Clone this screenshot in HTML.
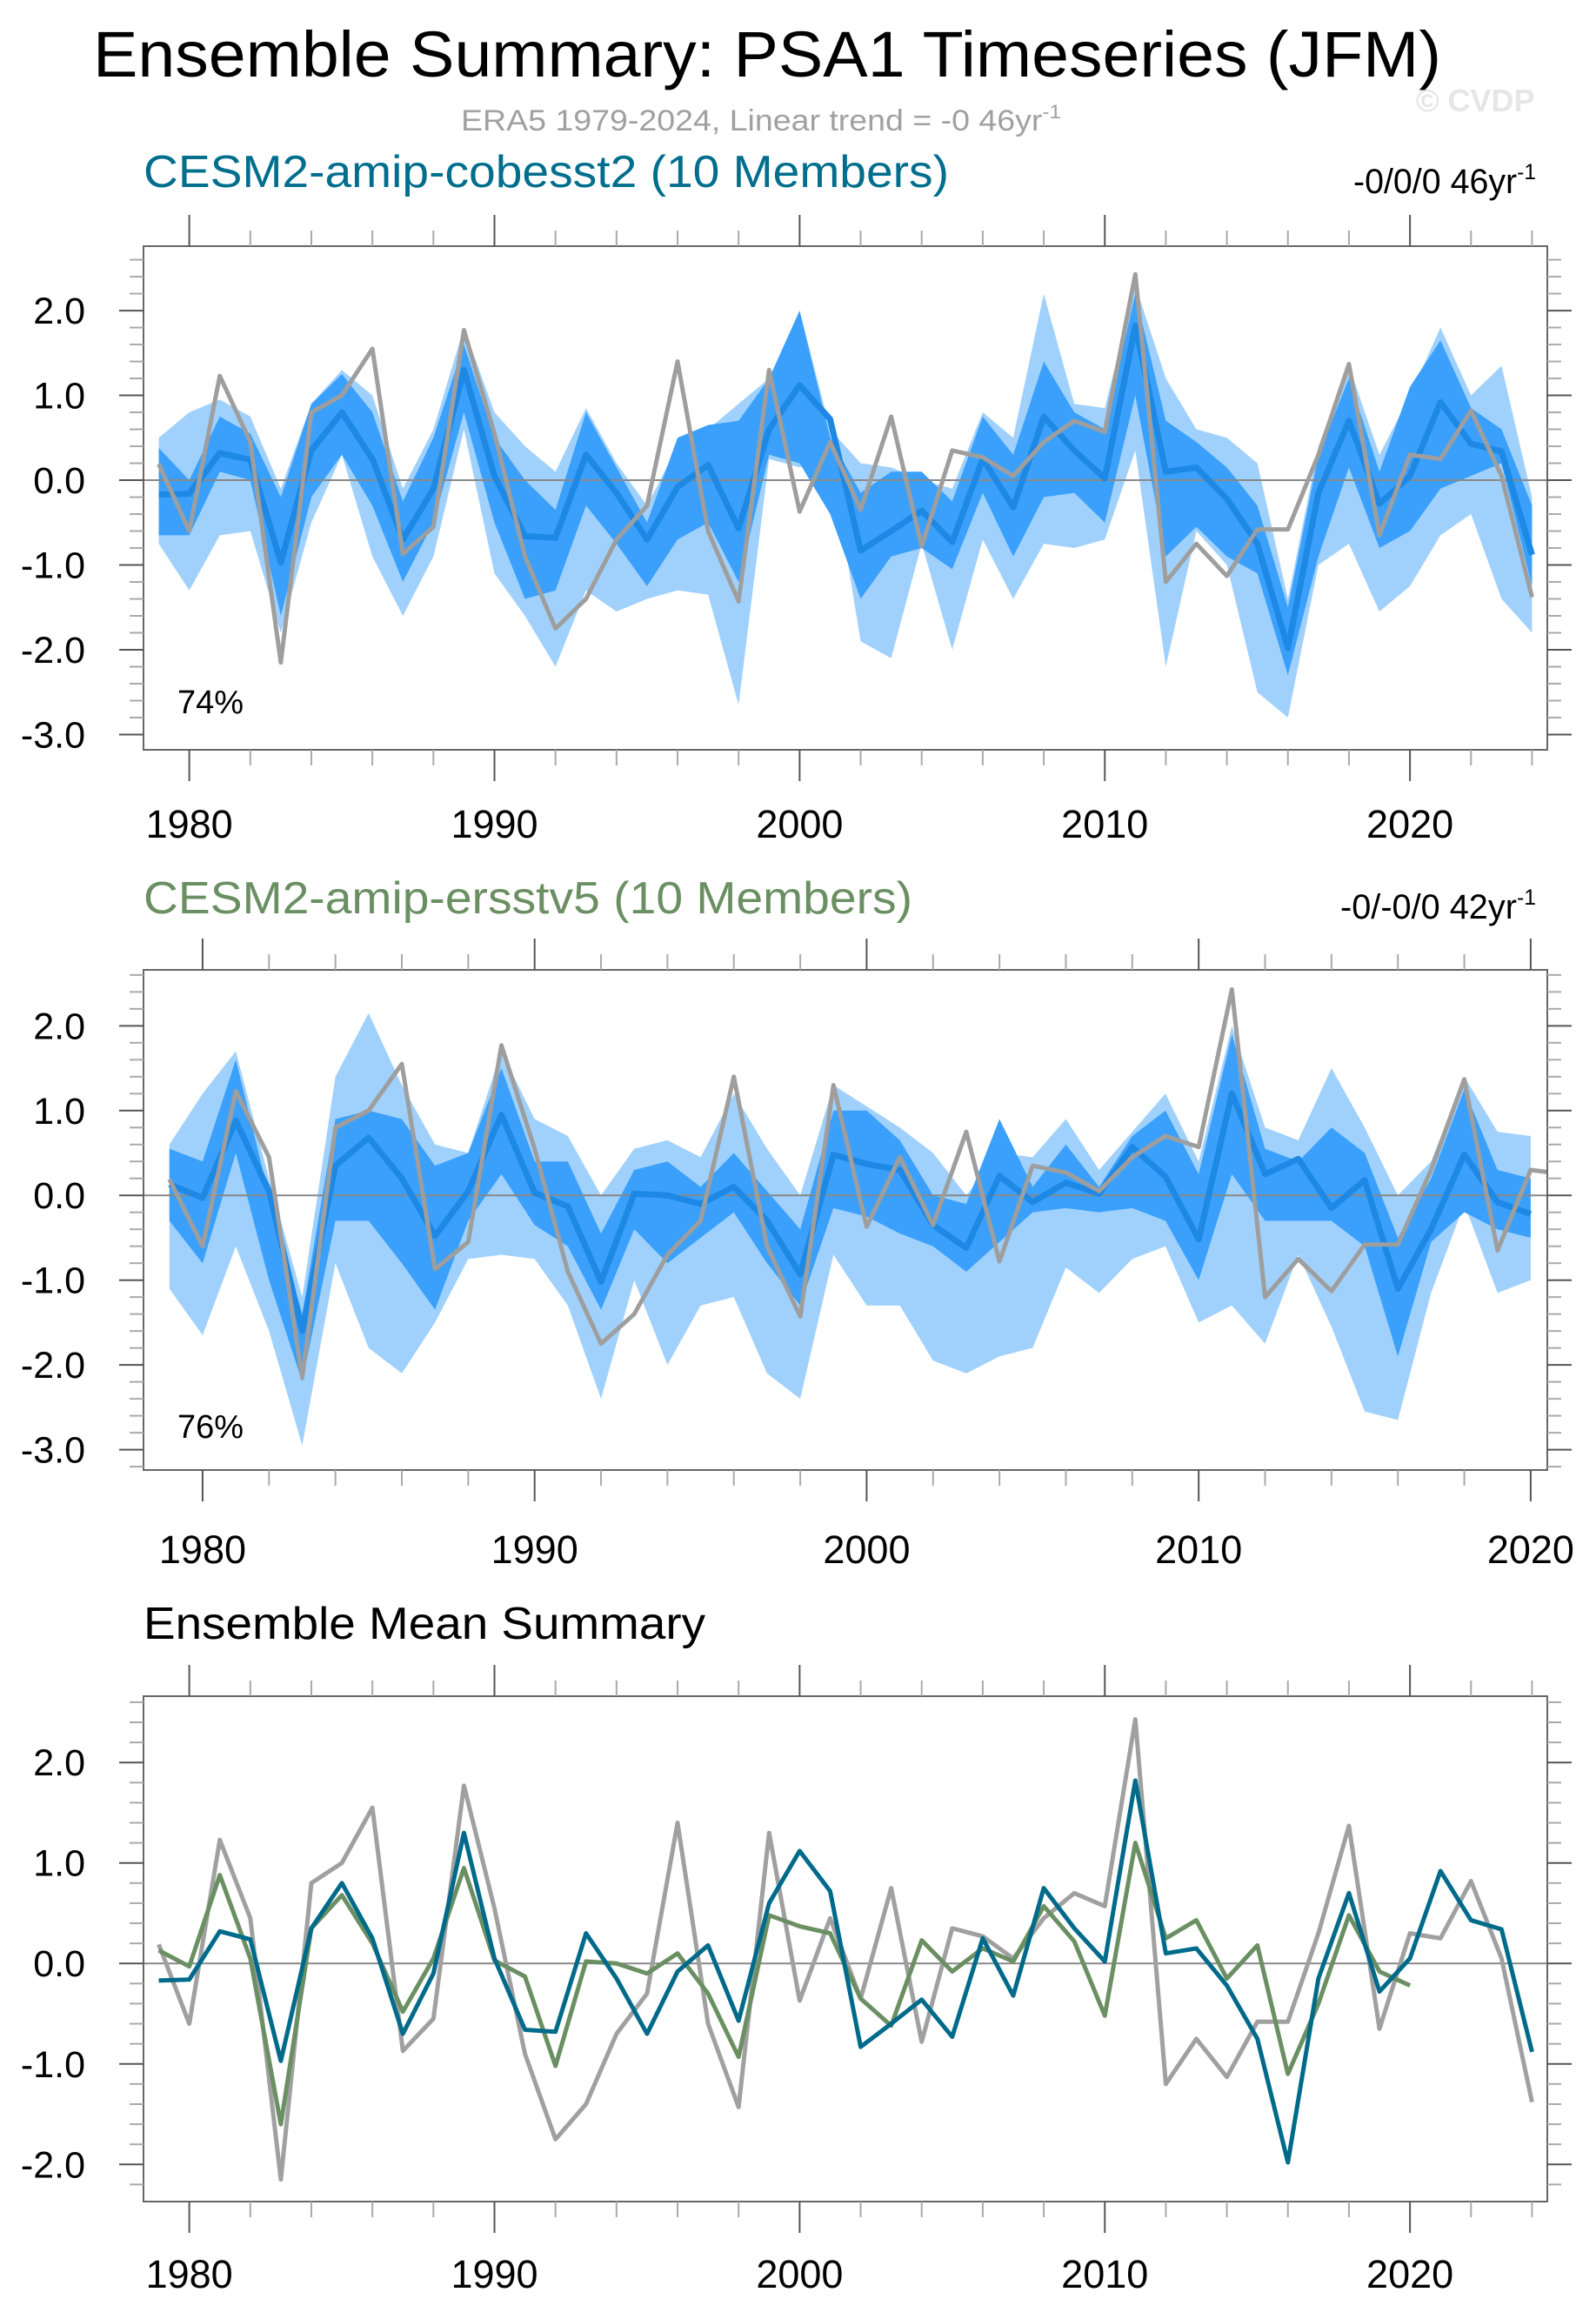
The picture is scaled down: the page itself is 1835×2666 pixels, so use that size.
<!DOCTYPE html>
<html><head><meta charset="utf-8"><style>
html,body{margin:0;padding:0;background:#fff}
svg{display:block}
text{font-family:"Liberation Sans",sans-serif}
</style></head><body>
<svg id="chart" width="1835" height="2666" viewBox="0 0 1835 2666" xmlns="http://www.w3.org/2000/svg">
<text x="107" y="88" font-size="74" textLength="1550" lengthAdjust="spacingAndGlyphs">Ensemble Summary: PSA1 Timeseries (JFM)</text>
<text x="530" y="150" font-size="34" fill="#a0a0a0" textLength="690" lengthAdjust="spacingAndGlyphs">ERA5 1979-2024, Linear trend = -0 46yr<tspan dy="-14" font-size="22">-1</tspan></text>
<text x="1628" y="128" font-size="36" font-weight="bold" fill="#e6e6e6">© CVDP</text>
<text x="165" y="215" font-size="52" fill="#006e8c" textLength="926" lengthAdjust="spacingAndGlyphs">CESM2-amip-cobesst2 (10 Members)</text>
<text x="1556" y="222" font-size="40" textLength="210" lengthAdjust="spacingAndGlyphs">-0/0/0 46yr<tspan dy="-16" font-size="25">-1</tspan></text>
<text x="165" y="1050" font-size="52" fill="#6a8f62" textLength="884" lengthAdjust="spacingAndGlyphs">CESM2-amip-ersstv5 (10 Members)</text>
<text x="1541" y="1056" font-size="40" textLength="225" lengthAdjust="spacingAndGlyphs">-0/-0/0 42yr<tspan dy="-16" font-size="25">-1</tspan></text>
<text x="165" y="1884" font-size="52" textLength="646" lengthAdjust="spacingAndGlyphs">Ensemble Mean Summary</text>
</svg>
<script>
const years1 = [];for(let y=1979;y<=2024;y++)years1.push(y);
const years2 = [];for(let y=1979;y<=2020;y++)years2.push(y);
const era5 = [0.19,-0.60,1.23,0.45,-2.15,0.80,1.00,1.55,-0.87,-0.55,1.77,0.55,-0.90,-1.75,-1.40,-0.70,-0.30,1.40,-0.60,-1.43,1.30,-0.37,0.45,-0.35,0.75,-0.78,0.35,0.27,0.05,0.45,0.70,0.57,2.43,-1.20,-0.75,-1.13,-0.58,-0.58,0.30,1.37,-0.65,0.30,0.25,0.82,0.05,-1.38];
const mean1 = [-0.17,-0.16,0.32,0.24,-0.97,0.35,0.80,0.25,-0.70,-0.10,1.30,0.05,-0.66,-0.68,0.30,-0.15,-0.70,-0.08,0.18,-0.57,0.60,1.12,0.72,-0.83,-0.60,-0.36,-0.73,0.25,-0.32,0.75,0.35,0.02,1.82,0.10,0.15,-0.22,-0.75,-1.98,-0.15,0.70,-0.28,0.05,0.92,0.43,0.34,-0.88];
const light1Hi = [0.50,0.80,0.95,0.75,-0.10,0.90,1.30,1.00,-0.10,0.60,1.80,0.80,0.40,0.10,0.85,0.20,-0.30,0.40,0.60,0.90,1.20,2.00,0.60,0.20,0.15,0.00,-0.10,0.80,0.50,2.20,0.90,0.85,2.30,1.20,0.60,0.50,0.20,-1.40,0.40,1.35,0.30,1.00,1.80,1.00,1.35,-0.20];
const light1Lo = [-0.75,-1.30,-0.65,-0.60,-1.80,-0.50,0.30,-0.90,-1.60,-0.90,0.60,-1.10,-1.60,-2.20,-1.30,-1.55,-1.40,-1.30,-1.35,-2.65,0.25,0.15,0.30,-1.90,-2.10,-0.75,-2.00,-0.70,-1.40,-0.75,-0.80,-0.70,0.35,-2.20,-0.60,-1.00,-2.50,-2.80,-1.00,-0.75,-1.55,-1.25,-0.65,-0.40,-1.40,-1.80];
const dark1Hi = [0.38,0.00,0.75,0.55,-0.20,0.90,1.25,0.80,-0.25,0.50,1.60,0.50,0.00,-0.35,0.80,0.15,-0.50,0.50,0.65,0.70,1.20,2.00,0.50,-0.15,0.10,0.10,-0.25,0.75,0.30,1.40,0.80,0.60,2.20,0.70,0.45,0.15,-0.30,-1.50,0.30,1.20,0.10,1.10,1.65,0.85,0.60,-0.30];
const dark1Lo = [-0.65,-0.65,0.10,0.00,-1.60,-0.20,0.30,-0.30,-1.20,-0.50,0.80,-0.50,-1.40,-1.30,-0.30,-0.75,-1.25,-0.70,-0.50,-1.20,0.30,0.20,-0.40,-1.40,-0.90,-0.80,-1.05,-0.15,-0.90,-0.20,-0.15,-0.50,1.00,-0.90,-0.55,-0.90,-1.10,-2.30,-0.90,0.15,-0.80,-0.60,-0.10,0.05,0.20,-1.25];
const mean2 = [0.13,-0.03,0.88,0.05,-1.60,0.35,0.68,0.20,-0.48,0.05,0.95,0.03,-0.13,-1.02,0.02,0.00,-0.10,0.10,-0.30,-0.93,0.48,0.37,0.30,-0.35,-0.62,0.23,-0.08,0.15,0.02,0.57,0.22,-0.52,1.20,0.25,0.43,-0.15,0.18,-1.10,-0.40,0.48,-0.08,-0.22];
const light2Hi = [0.60,1.20,1.70,0.20,-1.20,1.40,2.15,1.30,0.60,0.50,1.70,0.90,0.70,0.00,0.55,0.65,0.45,1.20,0.55,0.00,1.30,1.05,0.80,0.50,0.00,0.50,0.45,0.90,0.30,0.75,1.20,0.40,2.00,0.80,0.65,1.50,0.80,0.00,0.40,1.40,0.75,0.70];
const light2Lo = [-1.10,-1.65,-0.60,-1.60,-2.95,-0.80,-1.80,-2.10,-1.50,-0.75,-0.70,-0.75,-1.30,-2.40,-1.00,-2.00,-1.30,-1.20,-2.10,-2.40,-0.70,-1.30,-1.30,-1.95,-2.10,-1.90,-1.80,-0.85,-1.15,-0.75,-0.60,-1.50,-1.30,-1.75,-0.70,-1.55,-2.55,-2.65,-1.15,-0.10,-1.15,-1.00];
const dark2Hi = [0.55,0.40,1.60,0.00,-1.40,0.90,1.00,0.90,0.35,0.50,1.50,0.40,0.40,-0.45,0.30,0.40,0.10,0.50,0.05,-0.40,1.00,1.00,0.65,0.00,-0.10,0.90,0.10,0.60,0.10,0.70,1.00,0.25,1.90,0.55,0.40,0.80,0.50,-0.50,0.20,1.25,0.30,0.20];
const dark2Lo = [-0.30,-0.80,0.50,-1.00,-2.20,-0.30,-0.30,-0.80,-1.35,-0.30,0.25,-0.35,-0.60,-1.35,-0.40,-0.80,-0.50,-0.20,-0.80,-1.30,-0.15,-0.25,-0.45,-0.60,-0.90,-0.55,-0.20,-0.15,-0.20,-0.15,-0.30,-1.00,0.25,-0.30,-0.30,-0.30,-0.60,-1.90,-0.55,-0.20,-0.40,-0.50];
const yTicks1 = [2,1,0,-1,-2,-3];
const yTicks3 = [2,1,0,-1,-2];
const xTickLabels = [1980,1990,2000,2010,2020];
const pct1 = "74%";
const pct2 = "76%";

const NS="http://www.w3.org/2000/svg";
const svg=document.getElementById('chart');
function mk(tag,attrs,parent){const e=document.createElementNS(NS,tag);for(const k in attrs)e.setAttribute(k,attrs[k]);(parent||svg).appendChild(e);return e;}

function panel(id,cfg){
  const L=165,R=1779,T=cfg.top,B=cfg.bottom;
  const g=mk('g',{});
  
  
  const xs=v=>L+(v-cfg.x0)/(cfg.x1-cfg.x0)*(R-L);
  const ys=v=>T+(cfg.y1-v)/(cfg.y1-cfg.y0)*(B-T);
  const cp=mk('clipPath',{id:id+'clip'},g);mk('rect',{x:L,y:T,width:R-L,height:B-T},cp);
  const pg=mk('g',{'clip-path':'url(#'+id+'clip)'},g);
  function band(yrs,hi,lo,color,name){
    let d='';yrs.forEach((y,i)=>{d+=(i?'L':'M')+xs(y)+','+ys(hi[i]);});
    for(let i=yrs.length-1;i>=0;i--)d+='L'+xs(yrs[i])+','+ys(lo[i]);
    const p=mk('path',{d:d+'Z',fill:color},pg);
    
    
  }
  function line(yrs,vals,color,w,name){
    const pts=yrs.slice(0,vals.length).map((y,i)=>xs(y)+','+ys(vals[i])).join(' ');
    const p=mk('polyline',{points:pts,fill:'none',stroke:color,'stroke-width':w,'stroke-linejoin':'round'},pg);
    
    
  }
  if(cfg.bands){
    band(cfg.years,cfg.bands[0],cfg.bands[1],'#a0d1fc','minmax-band');
    band(cfg.years,cfg.bands[2],cfg.bands[3],'#3aa0fb','interquartile-band');
  }
  mk('line',{x1:L,x2:R,y1:ys(0),y2:ys(0),stroke:'#888','stroke-width':2},pg);
  cfg.lines.forEach(l=>line(l.years,l.vals,l.color,l.w,l.name));
  mk('rect',{x:L,y:T,width:R-L,height:B-T,fill:'none',stroke:'#666','stroke-width':2},g);
  for(let y=1980;y<=cfg.x1;y+=2){
    const major=y%10===0,len=major?36:18,x=xs(y);
    const c=major?'#555':'#aaa';
    mk('line',{x1:x,x2:x,y1:T,y2:T-len,stroke:c,'stroke-width':2},g);
    mk('line',{x1:x,x2:x,y1:B,y2:B+len,stroke:c,'stroke-width':2},g);
  }
  xTickLabels.forEach(v=>{if(v<=cfg.x1){
    const t=mk('text',{x:xs(v),y:cfg.xlabY,'font-size':45,'text-anchor':'middle'},g);t.textContent=v;
    
    
  }});
  for(let k=Math.ceil(cfg.y0*5);k<=Math.floor(cfg.y1*5);k++){
    const v=k/5,major=k%5===0,len=major?28:16,y=ys(v);
    const c=major?'#555':'#aaa';
    mk('line',{x1:L,x2:L-len,y1:y,y2:y,stroke:c,'stroke-width':2},g);
    mk('line',{x1:R,x2:R+len,y1:y,y2:y,stroke:c,'stroke-width':2},g);
  }
  cfg.yt.forEach(v=>{
    const t=mk('text',{x:98,y:ys(v)+15,'font-size':43,'text-anchor':'end'},g);t.textContent=v.toFixed(1);
    
    
  });
  if(cfg.pct){
    const t=mk('text',{x:204,y:cfg.pctY,'font-size':38},g);t.textContent=cfg.pct;
    
    
  }
}
panel('panel1',{top:283,bottom:862,x0:1978.5,x1:2024.5,y0:-3.18,y1:2.76,years:years1,
  bands:[light1Hi,light1Lo,dark1Hi,dark1Lo],
  lines:[{years:years1,vals:mean1,color:'#1e88e5',w:7,name:'ensemble-mean-line'},{years:years1,vals:era5,color:'#9e9e9e',w:5,name:'era5-line'}],
  yt:yTicks1,xlabY:963,pct:pct1,pctY:820});
panel('panel2',{top:1115,bottom:1690,x0:1978.22,x1:2020.5,y0:-3.24,y1:2.66,years:years2,
  bands:[light2Hi,light2Lo,dark2Hi,dark2Lo],
  lines:[{years:years2,vals:mean2,color:'#1e88e5',w:7,name:'ensemble-mean-line'},{years:years1,vals:era5,color:'#9e9e9e',w:5,name:'era5-line'}],
  yt:yTicks1,xlabY:1797,pct:pct2,pctY:1653});
panel('panel3',{top:1950,bottom:2531,x0:1978.5,x1:2024.5,y0:-2.37,y1:2.66,years:years1,
  lines:[{years:years1,vals:era5,color:'#a0a0a0',w:5,name:'era5-line'},{years:years2,vals:mean2,color:'#6a8f62',w:5,name:'ersstv5-mean-line'},{years:years1,vals:mean1,color:'#006a8a',w:5,name:'cobesst2-mean-line'}],
  yt:yTicks3,xlabY:2630});
</script>
</body></html>
